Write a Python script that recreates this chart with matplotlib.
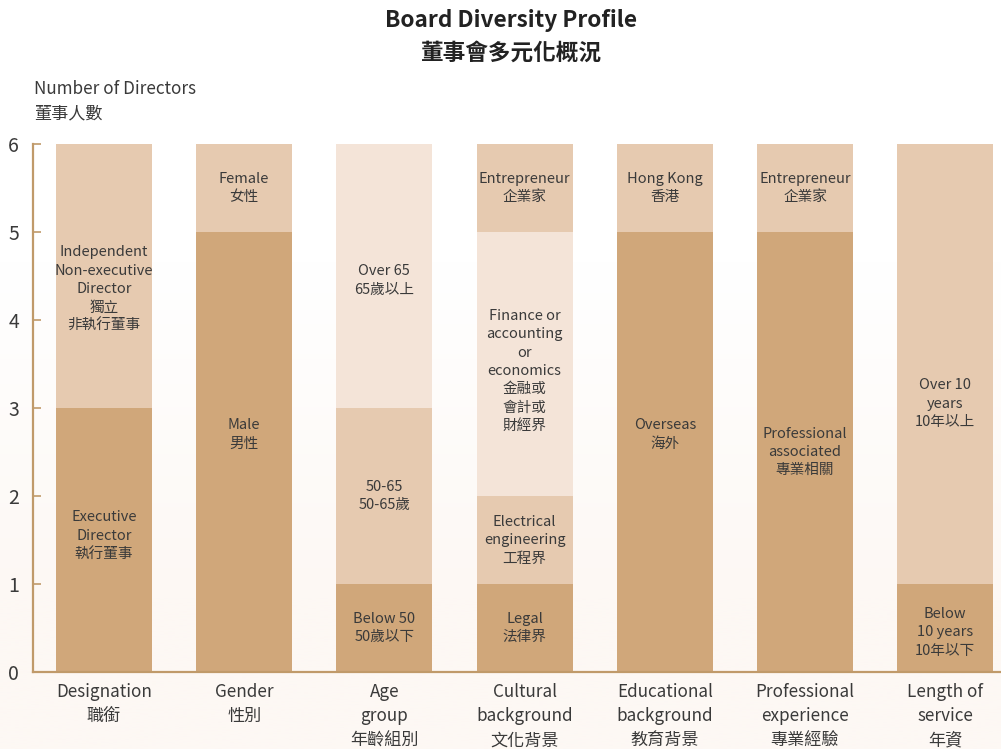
import numpy as np
import matplotlib
matplotlib.use("Agg")
import matplotlib.pyplot as plt

plt.rcParams['font.family'] = ['Noto Sans CJK TC', 'DejaVu Sans']

# categories along the x axis
categories = ["Designation\n職銜", "Gender\n性別", "Age\ngroup\n年齡組別",
              "Cultural\nbackground\n文化背景", "Educational\nbackground\n教育背景",
              "Professional\nexperience\n專業經驗", "Length of\nservice\n年資"]

# stacked segments per category, bottom to top: (value, shade, label)
segments = [
    [(3, 0, "Executive\nDirector\n執行董事"),
     (3, 1, "Independent\nNon-executive\nDirector\n獨立\n非執行董事")],
    [(5, 0, "Male\n男性"), (1, 1, "Female\n女性")],
    [(1, 0, "Below 50\n50歲以下"), (2, 1, "50-65\n50-65歲"), (3, 2, "Over 65\n65歲以上")],
    [(1, 0, "Legal\n法律界"), (1, 1, "Electrical\nengineering\n工程界"),
     (3, 2, "Finance or\naccounting\nor\neconomics\n金融或\n會計或\n財經界"),
     (1, 1, "Entrepreneur\n企業家")],
    [(5, 0, "Overseas\n海外"), (1, 1, "Hong Kong\n香港")],
    [(5, 0, "Professional\nassociated\n專業相關"), (1, 1, "Entrepreneur\n企業家")],
    [(1, 0, "Below\n10 years\n10年以下"), (5, 1, "Over 10\nyears\n10年以上")],
]

shades = ["#d0a77a", "#e6cab0", "#f4e4d8"]
# small nudges of label centre (data units) where the original is not centred
label_shift = {(1, 0): 0.2, (4, 0): 0.2, (6, 1): -0.45,
               (3, 2): -0.08, (0, 1): -0.15, (2, 2): -0.05, (0, 0): 0.05,
               (6, 0): -0.05}

fig = plt.figure(figsize=(10.01, 7.49), dpi=100)

# soft background gradient, white at the top to a faint blush at the bottom
bg = fig.add_axes([0, 0, 1, 1], zorder=-10)
grad = np.linspace(0, 1, 256)
grad = np.clip((grad - 0.35) / 0.45, 0, 1)[:, None]
top = np.array([1.0, 1.0, 1.0])
bot = np.array([253, 248, 244]) / 255
img = top[None, None, :] * (1 - grad[:, :, None]) + bot[None, None, :] * grad[:, :, None]
bg.imshow(img, aspect='auto', extent=[0, 1, 0, 1])
bg.axis('off')

ax = fig.add_axes([33 / 1001, 1 - 672 / 749, 1 - 33 / 1001, (672 - 144) / 749])
ax.set_facecolor('none')

x = np.arange(len(categories))
width = 0.685
txt = '#3a3a3a'
for i, segs in enumerate(segments):
    bottom = 0
    for j, (v, s, lab) in enumerate(segs):
        ax.bar(x[i], v, width, bottom=bottom, color=shades[s], linewidth=0)
        yc = bottom + v / 2 + label_shift.get((i, j), 0)
        ax.text(x[i], yc, lab, ha='center', va='center', fontsize=10.5,
                color=txt, linespacing=1.4)
        bottom += v

ax.set_xlim(-0.506, 6.398)
ax.set_ylim(0, 6)
ax.set_yticks(range(7))
ax.set_xticks(x)
ax.set_xticklabels(categories, fontsize=12.3, color=txt, linespacing=1.45, va='top')
ax.tick_params(axis='x', length=0, pad=8)
ax.tick_params(axis='y', direction='in', length=6, width=1.2, color='#c09a6a',
               labelsize=14, labelcolor=txt, pad=10)
for side in ['top', 'right']:
    ax.spines[side].set_visible(False)
for side in ['left', 'bottom']:
    ax.spines[side].set_color('#c09a6a')
    ax.spines[side].set_linewidth(1.6)

fig.text(511 / 1001, 1 - 20 / 749, "Board Diversity Profile", ha='center', va='center',
         fontsize=16.3, fontweight='bold', color='#222222')
fig.text(511 / 1001, 1 - 53 / 749, "董事會多元化概況", ha='center', va='center',
         fontsize=16.3, fontweight='bold', color='#222222')
fig.text(34 / 1001, 1 - 89 / 749, "Number of Directors", ha='left', va='center',
         fontsize=12.3, color=txt)
fig.text(34 / 1001, 1 - 113 / 749, "董事人數", ha='left', va='center',
         fontsize=12.3, color=txt)

fig.savefig("out.png", dpi=100)
